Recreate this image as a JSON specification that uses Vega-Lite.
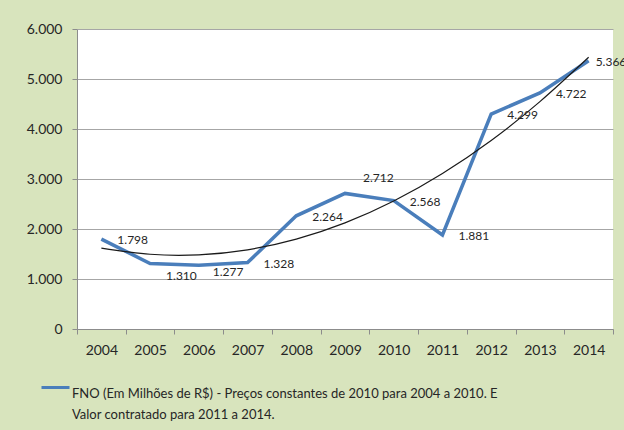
{
  "$schema": "https://vega.github.io/schema/vega-lite/v6.json",
  "autosize": "none",
  "width": 536,
  "height": 300,
  "padding": {"left": 77, "top": 29, "right": 11, "bottom": 101},
  "background": "#d8e4bd",
  "config": {
    "locale": {"number": {"decimal": ",", "thousands": ".", "grouping": [3], "currency": ["R$", ""]}},
    "view": {"fill": "#ffffff", "stroke": null},
    "font": "Lato",
    "style": {"guide-label": {"lineHeight": 21}}
  },
  "data": {
    "values": [
      {"ano": "2004", "valor": 1798, "tendencia": 1619},
      {"ano": "2005", "valor": 1310, "tendencia": 1495},
      {"ano": "2006", "valor": 1277, "tendencia": 1483},
      {"ano": "2007", "valor": 1328, "tendencia": 1584},
      {"ano": "2008", "valor": 2264, "tendencia": 1797},
      {"ano": "2009", "valor": 2712, "tendencia": 2122},
      {"ano": "2010", "valor": 2568, "tendencia": 2560},
      {"ano": "2011", "valor": 1881, "tendencia": 3110},
      {"ano": "2012", "valor": 4299, "tendencia": 3772},
      {"ano": "2013", "valor": 4722, "tendencia": 4547},
      {"ano": "2014", "valor": 5366, "tendencia": 5434}
    ]
  },
  "encoding": {
    "x": {
      "field": "ano",
      "type": "ordinal",
      "scale": {"type": "band", "paddingInner": 0, "paddingOuter": 0},
      "axis": {
        "title": null,
        "labelAngle": 0,
        "tickBand": "extent",
        "tickSize": 5,
        "tickColor": "#8c8c8c",
        "domainColor": "#8c8c8c",
        "grid": false,
        "labelFontSize": 14,
        "labelColor": "#262626",
        "labelPadding": 9
      }
    },
    "y": {
      "field": "valor",
      "type": "quantitative",
      "scale": {"domain": [0, 6000], "nice": false},
      "axis": {
        "title": null,
        "values": [0, 1000, 2000, 3000, 4000, 5000, 6000],
        "format": ",.0f",
        "tickSize": 5,
        "tickColor": "#8c8c8c",
        "domainColor": "#8c8c8c",
        "gridColor": "#a6a6a6",
        "gridOpacity": 1,
        "labelFontSize": 14,
        "labelColor": "#262626",
        "labelPadding": 10
      }
    }
  },
  "layer": [
    {
      "mark": {"type": "line", "strokeWidth": 3.5, "strokeJoin": "miter"},
      "encoding": {
        "color": {
          "datum": "FNO",
          "scale": {"range": ["#4a7ebb"]},
          "legend": {
            "title": null,
            "orient": "none",
            "legendX": -37,
            "legendY": 343,
            "symbolType": "stroke",
            "symbolSize": 784,
            "symbolStrokeWidth": 3,
            "labelFontSize": 13,
            "labelColor": "#262626",
            "labelLimit": 600,
            "labelOffset": 1,
            "labelBaseline": "top",
            "labelExpr": "['FNO (Em Milhões de R$) - Preços constantes de 2010 para 2004 a 2010. E', 'Valor contratado para 2011 a 2014.']"
          }
        }
      }
    },
    {
      "mark": {"type": "line", "color": "#1a1a1a", "strokeWidth": 1.2, "interpolate": "natural"},
      "encoding": {"y": {"field": "tendencia", "type": "quantitative"}}
    },
    {
      "transform": [{"filter": "indexof(['2004','2007','2008','2010','2011','2012','2013'], datum.ano) >= 0"}],
      "mark": {"type": "text", "align": "left", "baseline": "middle", "dx": 16, "dy": 1, "fontSize": 12, "color": "#262626"},
      "encoding": {"text": {"field": "valor", "type": "quantitative", "format": ",.0f"}}
    },
    {
      "transform": [{"filter": "datum.ano == '2005'"}],
      "mark": {"type": "text", "align": "left", "baseline": "middle", "dx": 16, "dy": 12, "fontSize": 12, "color": "#262626"},
      "encoding": {"text": {"field": "valor", "type": "quantitative", "format": ",.0f"}}
    },
    {
      "transform": [{"filter": "datum.ano == '2006'"}],
      "mark": {"type": "text", "align": "left", "baseline": "middle", "dx": 14, "dy": 7, "fontSize": 12, "color": "#262626"},
      "encoding": {"text": {"field": "valor", "type": "quantitative", "format": ",.0f"}}
    },
    {
      "transform": [{"filter": "datum.ano == '2009'"}],
      "mark": {"type": "text", "align": "left", "baseline": "middle", "dx": 18, "dy": -15, "fontSize": 12, "color": "#262626"},
      "encoding": {"text": {"field": "valor", "type": "quantitative", "format": ",.0f"}}
    },
    {
      "transform": [{"filter": "datum.ano == '2014'"}],
      "mark": {"type": "text", "align": "left", "baseline": "middle", "dx": 7, "dy": 1, "fontSize": 12, "color": "#262626"},
      "encoding": {"text": {"field": "valor", "type": "quantitative", "format": ",.0f"}}
    }
  ]
}
